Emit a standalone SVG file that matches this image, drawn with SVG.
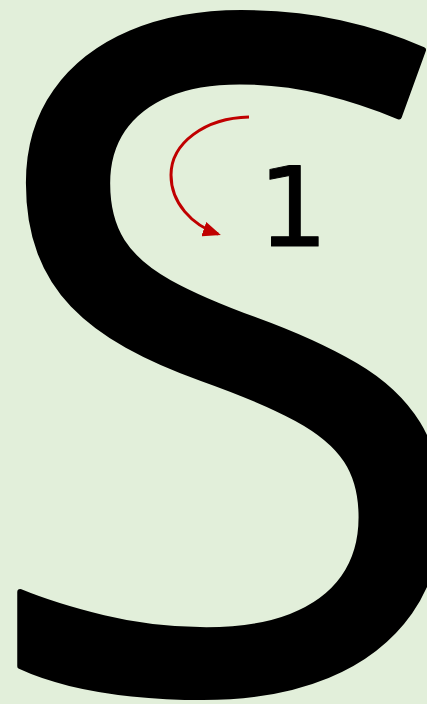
<svg xmlns="http://www.w3.org/2000/svg" width="427" height="704" viewBox="0 0 427 704">
<style>
.glyph{fill:#000;stroke:#000;stroke-linejoin:round}
.conn{fill:none;stroke:#c00000;stroke-width:3}
</style>
<defs>
<marker id="ah" markerWidth="6" markerHeight="5" refX="5" refY="2.5" orient="auto" markerUnits="strokeWidth">
<path d="M0,0 L6,2.5 L0,5 z" fill="#c00000"/>
</marker>
</defs>
<rect width="427" height="704" fill="#e2efda"/>
<g id="letter-S"><text class="glyph" x="228" y="688" text-anchor="middle" font-family="'Open Sans',sans-serif" font-weight="520" font-size="932" stroke-width="6">S</text></g>
<g id="label-1"><text class="glyph" x="293" y="246" text-anchor="middle" font-family="'DejaVu Sans',sans-serif" font-size="111" stroke-width="1">1</text></g>
<g id="connectors">
<path class="conn" d="M249,117 C205,118 171,143 171,175 C171,203 192,225 218,234" marker-end="url(#ah)"/>
</g>
</svg>
